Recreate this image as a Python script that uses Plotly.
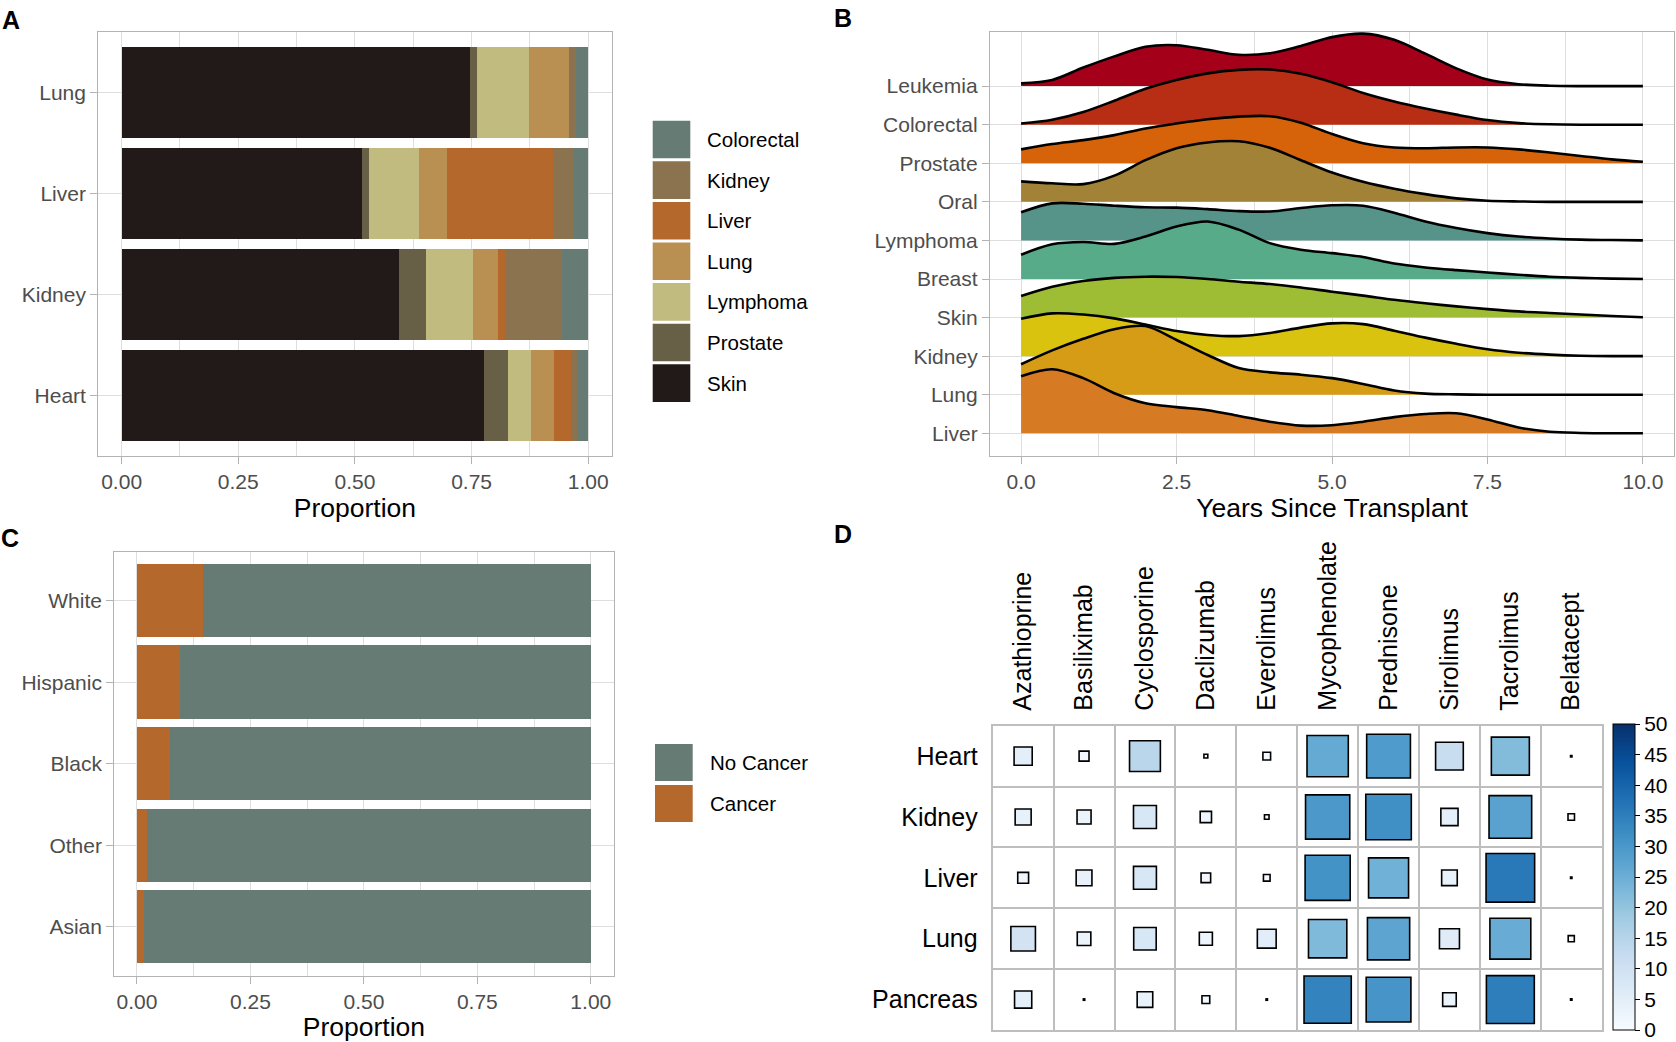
import plotly.graph_objects as go

W, H = 1676, 1042
FONT = "Liberation Sans, Arial, Helvetica, sans-serif"
TICK_GRAY = "#4D4D4D"
BORDER = "#B3B3B3"
GRID = "#DEDEDE"

# ---------------- Panel A: cancer site by transplanted organ ----------------
organs_A = ["Heart", "Kidney", "Liver", "Lung"]
sites_stack_A = ["Skin", "Prostate", "Lymphoma", "Lung", "Liver", "Kidney", "Colorectal"]
share_skin = [0.777, 0.594, 0.516, 0.746]
share_prostate = [0.050, 0.058, 0.014, 0.015]
share_lymphoma = [0.050, 0.101, 0.107, 0.113]
share_lung = [0.049, 0.054, 0.060, 0.084]
share_liver = [0.038, 0.015, 0.228, 0.000]
share_kidney = [0.012, 0.121, 0.045, 0.015]
share_colorectal = [0.024, 0.057, 0.030, 0.027]
colors_A = ["#221A19", "#676047", "#C2BB80", "#BA8F52", "#B4682B", "#8B7350", "#667B73"]
legend_A = ["Colorectal", "Kidney", "Liver", "Lung", "Lymphoma", "Prostate", "Skin"]

prop_ticks = [0, 0.25, 0.5, 0.75, 1.0]
prop_ticktext = ["0.00", "0.25", "0.50", "0.75", "1.00"]

# ---------------- Panel B: ridgelines of years since transplant ----------------
years = [0, 0.5, 1, 1.5, 2, 2.5, 3, 3.5, 4, 4.5, 5, 5.5, 6, 6.5, 7, 7.5, 8, 8.5, 9, 9.5, 10]
ridge_names = ["Liver", "Lung", "Kidney", "Skin", "Breast", "Lymphoma", "Oral",
               "Prostate", "Colorectal", "Leukemia"]
dens_liver = [1.48, 1.66, 1.43, 1.04, 0.78, 0.68, 0.60, 0.45, 0.30, 0.20, 0.21, 0.30, 0.42, 0.50, 0.52, 0.36, 0.15, 0.04, 0.01, 0, 0]
dens_lung = [0.79, 1.15, 1.45, 1.70, 1.78, 1.42, 1.03, 0.69, 0.58, 0.52, 0.43, 0.28, 0.11, 0.03, 0.01, 0, 0, 0, 0, 0, 0]
dens_kidney = [0.97, 1.11, 1.08, 0.98, 0.82, 0.65, 0.55, 0.52, 0.60, 0.74, 0.85, 0.83, 0.66, 0.48, 0.32, 0.18, 0.09, 0.04, 0.01, 0, 0]
dens_skin = [0.56, 0.80, 0.95, 1.03, 1.06, 1.05, 1.00, 0.93, 0.87, 0.78, 0.67, 0.57, 0.46, 0.37, 0.29, 0.22, 0.16, 0.12, 0.08, 0.04, 0.01]
dens_breast = [0.63, 0.90, 0.96, 0.91, 1.10, 1.36, 1.49, 1.28, 0.93, 0.76, 0.67, 0.57, 0.40, 0.30, 0.23, 0.17, 0.11, 0.06, 0.03, 0.01, 0]
dens_lymphoma = [0.73, 0.96, 0.95, 0.90, 0.86, 0.85, 0.81, 0.76, 0.75, 0.84, 0.91, 0.90, 0.72, 0.49, 0.32, 0.19, 0.10, 0.05, 0.02, 0.01, 0]
dens_oral = [0.53, 0.48, 0.46, 0.68, 1.08, 1.39, 1.54, 1.57, 1.40, 1.08, 0.76, 0.52, 0.34, 0.20, 0.09, 0.03, 0.01, 0, 0, 0, 0]
dens_prostate = [0.36, 0.50, 0.60, 0.73, 0.90, 1.03, 1.14, 1.21, 1.22, 1.05, 0.76, 0.52, 0.41, 0.39, 0.41, 0.41, 0.36, 0.28, 0.19, 0.10, 0.04]
dens_colorectal = [0.03, 0.13, 0.33, 0.62, 0.93, 1.16, 1.33, 1.42, 1.43, 1.32, 1.10, 0.82, 0.60, 0.42, 0.26, 0.12, 0.04, 0.01, 0, 0, 0]
dens_leukemia = [0.07, 0.16, 0.48, 0.77, 1.02, 1.06, 0.94, 0.81, 0.85, 1.04, 1.27, 1.36, 1.20, 0.84, 0.46, 0.17, 0.05, 0.01, 0, 0, 0]
ridge_colors = ["#D67A23", "#D79C15", "#DAC30F", "#9FBD34", "#58AB89", "#569489",
                "#A18236", "#D6630A", "#B82E14", "#A4001A"]
year_ticks = [0, 2.5, 5, 7.5, 10]
year_ticktext = ["0.0", "2.5", "5.0", "7.5", "10.0"]

# ---------------- Panel C: cancer by race/ethnicity ----------------
groups_C = ["Asian", "Other", "Black", "Hispanic", "White"]
prop_cancer = [0.016, 0.023, 0.073, 0.094, 0.146]
prop_no_cancer = [0.984, 0.977, 0.927, 0.906, 0.854]
color_cancer = "#B4682B"
color_no_cancer = "#667B73"

# ---------------- Panel D: immunosuppressant use ----------------
drugs = ["Azathioprine", "Basiliximab", "Cyclosporine", "Daclizumab", "Everolimus",
         "Mycophenolate", "Prednisone", "Sirolimus", "Tacrolimus", "Belatacept"]
organs_D = ["Heart", "Kidney", "Liver", "Lung", "Pancreas"]
use_heart = [5.0, 1.5, 14.5, 0.23, 0.9, 26.0, 29.2, 11.7, 22.0, 0.03]
use_kidney = [3.9, 3.0, 8.0, 1.95, 0.32, 29.8, 31.6, 4.5, 27.7, 0.64]
use_liver = [1.8, 3.8, 8.0, 1.4, 0.67, 31.0, 24.4, 3.7, 36.0, 0.03]
use_lung = [9.2, 2.8, 7.7, 2.6, 5.4, 22.4, 27.2, 6.1, 25.5, 0.57]
use_pancreas = [4.5, 0.03, 3.7, 0.92, 0.03, 34.0, 30.5, 2.8, 35.0, 0.03]
colorbar_ticks = [0, 5, 10, 15, 20, 25, 30, 35, 40, 45, 50]
BLUES = [[0, "#f7fbff"], [0.125, "#deebf7"], [0.25, "#c6dbef"], [0.375, "#9ecae1"],
         [0.5, "#6baed6"], [0.625, "#4292c6"], [0.75, "#2171b5"], [0.875, "#08519c"],
         [1, "#08306b"]]


def px_x(p):
    return p / W


def px_y(p):
    return 1 - p / H


def light_axis(**kw):
    base = dict(showline=True, mirror=True, linecolor=BORDER, linewidth=1.3,
                showgrid=True, gridcolor=GRID, gridwidth=1.1, zeroline=False,
                ticks="outside", ticklen=7, tickcolor=BORDER, tickwidth=1.1,
                tickfont=dict(size=21, color=TICK_GRAY, family=FONT))
    base.update(kw)
    return base


def midpoints(vals):
    return [(a + b) / 2 for a, b in zip(vals[:-1], vals[1:])]


fig = go.Figure()

# ---- Panel A bars
shares_A = [share_skin, share_prostate, share_lymphoma, share_lung,
            share_liver, share_kidney, share_colorectal]
for name, vals, col in zip(sites_stack_A, shares_A, colors_A):
    fig.add_trace(go.Bar(x=vals, y=organs_A, orientation="h", name=name,
                         marker=dict(color=col, line=dict(width=0)), width=0.9,
                         xaxis="x", yaxis="y", showlegend=False))

# ---- Panel B ridgelines (top ridge drawn first, lower ridges on top)
dens_all = [dens_liver, dens_lung, dens_kidney, dens_skin, dens_breast,
            dens_lymphoma, dens_oral, dens_prostate, dens_colorectal, dens_leukemia]
for idx in reversed(range(len(ridge_names))):
    base = idx + 1
    fig.add_trace(go.Scatter(x=years, y=[base] * len(years), mode="lines",
                             line=dict(width=0), hoverinfo="skip",
                             xaxis="x2", yaxis="y2", showlegend=False))
    fig.add_trace(go.Scatter(x=years, y=[base + d for d in dens_all[idx]], mode="lines",
                             line=dict(color="black", width=2.6, shape="spline", smoothing=0.9),
                             fill="tonexty", fillcolor=ridge_colors[idx],
                             name=ridge_names[idx], xaxis="x2", yaxis="y2", showlegend=False))

# ---- Panel C bars
fig.add_trace(go.Bar(x=prop_cancer, y=groups_C, orientation="h", name="Cancer",
                     marker=dict(color=color_cancer, line=dict(width=0)), width=0.9,
                     xaxis="x3", yaxis="y3", showlegend=False))
fig.add_trace(go.Bar(x=prop_no_cancer, y=groups_C, orientation="h", name="No Cancer",
                     marker=dict(color=color_no_cancer, line=dict(width=0)), width=0.9,
                     xaxis="x3", yaxis="y3", showlegend=False))

# ---- Panel D squares
use_rows = [use_heart, use_kidney, use_liver, use_lung, use_pancreas]
dx, dy, dv = [], [], []
for organ, row in zip(organs_D, use_rows):
    for drug, v in zip(drugs, row):
        dx.append(drug)
        dy.append(organ)
        dv.append(v)
fig.add_trace(go.Scatter(
    x=dx, y=dy, mode="markers", xaxis="x4", yaxis="y4", showlegend=False,
    marker=dict(symbol="square", size=dv, sizemode="area", sizeref=2 / 8.1 ** 2, sizemin=0.6,
                color=dv, colorscale=BLUES, cmin=0, cmax=50, opacity=1,
                line=dict(color="black", width=1.6),
                showscale=True,
                colorbar=dict(x=px_x(1613), xanchor="left", xpad=0,
                              y=px_y(1030), yanchor="bottom", ypad=0,
                              len=(1030 - 724) / H, lenmode="fraction",
                              thickness=22, thicknessmode="pixels",
                              outlinecolor="black", outlinewidth=1,
                              tickmode="array", tickvals=colorbar_ticks,
                              ticks="outside", ticklen=5, tickcolor="black",
                              tickfont=dict(size=21, color="black", family=FONT)))))

title_font = dict(size=26.5, color="black", family=FONT)

layout = dict(
    width=W, height=H, margin=dict(l=0, r=0, t=0, b=0),
    paper_bgcolor="white", plot_bgcolor="white", barmode="stack", showlegend=False,
    font=dict(family=FONT),
    xaxis=light_axis(domain=[px_x(98.3), px_x(611.6)], range=[-0.05, 1.05], anchor="y",
                     tickmode="array", tickvals=prop_ticks, ticktext=prop_ticktext,
                     minor=dict(tickmode="array", tickvals=midpoints(prop_ticks), showgrid=True,
                                gridcolor=GRID, gridwidth=0.6, ticks=""),
                     title=dict(text="Proportion", font=title_font, standoff=3)),
    yaxis=light_axis(domain=[px_y(456), px_y(31.7)], type="category",
                     categoryorder="array", categoryarray=organs_A,
                     range=[-0.6, len(organs_A) - 0.4], anchor="x"),
    xaxis2=light_axis(domain=[px_x(990), px_x(1674)], range=[-0.5, 10.5], anchor="y2",
                      tickmode="array", tickvals=year_ticks, ticktext=year_ticktext,
                      minor=dict(tickmode="array", tickvals=midpoints(year_ticks), showgrid=True,
                                 gridcolor=GRID, gridwidth=0.6, ticks=""),
                      title=dict(text="Years Since Transplant", font=title_font, standoff=3)),
    yaxis2=light_axis(domain=[px_y(455.7), px_y(31.7)], range=[0.42, 11.41], anchor="x2",
                      tickmode="array", tickvals=list(range(1, len(ridge_names) + 1)),
                      ticktext=ridge_names),
    xaxis3=light_axis(domain=[px_x(114.3), px_x(613.5)], range=[-0.05, 1.05], anchor="y3",
                      tickmode="array", tickvals=prop_ticks, ticktext=prop_ticktext,
                      minor=dict(tickmode="array", tickvals=midpoints(prop_ticks), showgrid=True,
                                 gridcolor=GRID, gridwidth=0.6, ticks=""),
                      title=dict(text="Proportion", font=title_font, standoff=3)),
    yaxis3=light_axis(domain=[px_y(975.7), px_y(551.7)], type="category",
                      categoryorder="array", categoryarray=groups_C,
                      range=[-0.6, len(groups_C) - 0.4], anchor="x3"),
    xaxis4=dict(domain=[px_x(992.7), px_x(1601.7)], type="category", anchor="y4",
                categoryorder="array", categoryarray=drugs, range=[-0.5, len(drugs) - 0.5],
                side="top", tickangle=-90, tickson="boundaries", ticks="",
                showgrid=True, gridcolor="#BEBEBE", gridwidth=2, zeroline=False,
                showline=True, mirror=True, linecolor="#BEBEBE", linewidth=2,
                ticklabelstandoff=8,
                tickfont=dict(size=25, color="black", family=FONT)),
    yaxis4=dict(domain=[px_y(1030), px_y(725.7)], type="category", anchor="x4",
                categoryorder="array", categoryarray=organs_D[::-1],
                range=[-0.5, len(organs_D) - 0.5], tickson="boundaries", ticks="",
                showgrid=True, gridcolor="#BEBEBE", gridwidth=2, zeroline=False,
                showline=True, mirror=True, linecolor="#BEBEBE", linewidth=2,
                ticklabelstandoff=8,
                tickfont=dict(size=25, color="black", family=FONT)),
)
fig.update_layout(**layout)

# ---- custom legends (large square keys, as in the reference)
shapes, annots = [], []


def add_legend(labels, cols, x0, x1, top, pitch, key_h, text_x):
    for i, (lab, col) in enumerate(zip(labels, cols)):
        y0 = top + i * pitch
        shapes.append(dict(type="rect", xref="paper", yref="paper",
                           x0=px_x(x0), x1=px_x(x1), y0=px_y(y0 + key_h), y1=px_y(y0),
                           fillcolor=col, line=dict(width=0), layer="above"))
        annots.append(dict(text=lab, xref="paper", yref="paper", x=px_x(text_x),
                           y=px_y(y0 + key_h / 2), xanchor="left", yanchor="middle",
                           showarrow=False, font=dict(size=20.5, color="black", family=FONT)))


legend_colors_A = [colors_A[sites_stack_A.index(s)] for s in legend_A]
add_legend(legend_A, legend_colors_A, 652.7, 690.3, 120.7, 40.6, 37.6, 705)
add_legend(["No Cancer", "Cancer"], [color_no_cancer, color_cancer], 655, 692.7, 744, 41, 37, 708)

for letter, x, y in [("A", 11, 19.5), ("B", 843, 18), ("C", 10, 537.5), ("D", 843, 533.5)]:
    annots.append(dict(text="<b>%s</b>" % letter, xref="paper", yref="paper",
                       x=px_x(x), y=px_y(y), xanchor="center", yanchor="middle",
                       showarrow=False, font=dict(size=25, color="black", family=FONT)))

fig.update_layout(shapes=shapes, annotations=annots)

fig.write_html("out.html", config={"displayModeBar": False},
               post_script="document.body.style.margin='0';")
